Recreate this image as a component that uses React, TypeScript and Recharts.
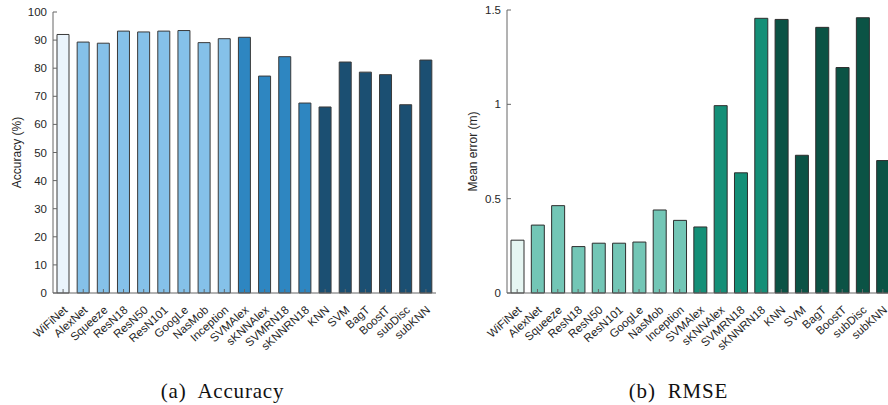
import { BarChart, Bar, XAxis, YAxis, Cell } from 'recharts';

const methods = [
  'WiFiNet', 'AlexNet', 'Squeeze', 'ResN18', 'ResN50', 'ResN101', 'GoogLe', 'NasMob', 'Inception',
  'SVMAlex', 'sKNNAlex', 'SVMRN18', 'sKNNRN18', 'KNN', 'SVM', 'BagT', 'BoostT', 'subDisc', 'subKNN',
];
// 0 = proposed, 1 = transfer learned DNNs, 2 = feature + classifier, 3 = classic ML
const groups = [0, 1, 1, 1, 1, 1, 1, 1, 1, 2, 2, 2, 2, 3, 3, 3, 3, 3, 3];
const accuracy = [92.0, 89.3, 88.9, 93.2, 92.9, 93.2, 93.4, 89.1, 90.5, 91.0, 77.2, 84.1, 67.6, 66.2, 82.2, 78.6, 77.7, 67.0, 82.9];
const rmse = [0.28, 0.36, 0.463, 0.246, 0.264, 0.264, 0.27, 0.44, 0.385, 0.35, 0.993, 0.637, 1.456, 1.45, 0.73, 1.408, 1.195, 1.459, 0.702];
const accTicks = [0, 10, 20, 30, 40, 50, 60, 70, 80, 90, 100];
const rmseTicks = [0, 0.5, 1, 1.5];

const blues = ['#eaf4fc', '#85c1e9', '#2e86c1', '#1b4f72'];
const greens = ['#e6f6f2', '#73c6b6', '#148f77', '#0b5345'];

const accData = methods.map((m, i) => ({ name: m, value: accuracy[i] }));
const rmseData = methods.map((m, i) => ({ name: m, value: rmse[i] }));

const axisColor = '#666';
const labelFont = '"Liberation Sans", Arial, sans-serif';

const RotTick = (props: any) => {
  const { x, y, payload } = props;
  const tx = x + 5;
  const ty = y + 14;
  return (
    <text
      x={tx}
      y={ty}
      textAnchor="end"
      fontSize={11.5}
      fontFamily={labelFont}
      fill="#262626"
      transform={`rotate(-42, ${tx}, ${ty})`}
    >
      {payload.value}
    </text>
  );
};

const Caption = ({ text, left, width }: { text: string; left: number; width: number }) => (
  <div
    style={{
      position: 'absolute',
      left,
      top: 379,
      width,
      textAlign: 'center',
      fontFamily: '"Liberation Serif", "DejaVu Serif", serif',
      fontSize: 21,
      letterSpacing: 0.8,
      color: '#111',
      whiteSpace: 'pre',
    }}
  >
    {text}
  </div>
);

export default function App() {
  return (
    <div style={{ position: 'absolute', left: 0, top: 0, width: 888, height: 405, background: '#fff' }}>
      <div style={{ position: 'absolute', left: 0, top: 0 }}>
        <BarChart width={445} height={405} data={accData} margin={{ top: 12, right: 9, bottom: 0, left: 0 }} barSize={12}>
          <XAxis
            dataKey="name"
            xAxisId="bottom"
            height={112}
            interval={0}
            stroke={axisColor}
            tickSize={-4}
            tickMargin={8}
            tick={<RotTick />}
          />
          <XAxis dataKey="name" xAxisId="top" orientation="top" height={0} interval={0} stroke={axisColor} tickSize={-4} tick={false} />
          <YAxis
            yAxisId="left"
            width={53}
            domain={[0, 100]}
            ticks={accTicks}
            interval={0}
            stroke={axisColor}
            tickSize={-4}
            tickMargin={10}
            tick={{ fontSize: 11.5, fontFamily: labelFont, fill: '#262626' }}
            label={{ value: 'Accuracy (%)', angle: -90, position: 'insideLeft', offset: 17, style: { textAnchor: 'middle', fontSize: 12, fontFamily: labelFont, fill: '#262626' } }}
          />
          <YAxis yAxisId="right" orientation="right" width={0} domain={[0, 100]} ticks={accTicks} interval={0} stroke={axisColor} tickSize={-4} tick={false} />
          <Bar dataKey="value" xAxisId="bottom" yAxisId="left" stroke="#3a3a3a" strokeWidth={1} isAnimationActive={false}>
            {accData.map((d, i) => (
              <Cell key={d.name} fill={blues[groups[i]]} />
            ))}
          </Bar>
        </BarChart>
      </div>
      <div style={{ position: 'absolute', left: 445, top: 0, width: 443, height: 405, overflow: 'hidden' }}>
        <BarChart width={448} height={405} data={rmseData} margin={{ top: 10, right: 0, bottom: 0, left: 0 }} barSize={13}>
          <XAxis
            dataKey="name"
            xAxisId="bottom"
            height={112}
            interval={0}
            stroke={axisColor}
            tickSize={-4}
            tickMargin={8}
            tick={<RotTick />}
          />
          <XAxis dataKey="name" xAxisId="top" orientation="top" height={0} interval={0} stroke={axisColor} tickSize={-4} tick={false} />
          <YAxis
            width={62}
            domain={[0, 1.5]}
            ticks={rmseTicks}
            interval={0}
            stroke={axisColor}
            tickSize={-4}
            tickMargin={10}
            tick={{ fontSize: 11.5, fontFamily: labelFont, fill: '#262626' }}
            label={{ value: 'Mean error (m)', angle: -90, position: 'insideLeft', offset: 28, style: { textAnchor: 'middle', fontSize: 12, fontFamily: labelFont, fill: '#262626' } }}
          />
          <Bar dataKey="value" xAxisId="bottom" stroke="#2e2e2e" strokeWidth={1} isAnimationActive={false}>
            {rmseData.map((d, i) => (
              <Cell key={d.name} fill={greens[groups[i]]} />
            ))}
          </Bar>
        </BarChart>
      </div>
      <Caption text="(a)  Accuracy" left={0} width={445} />
      <Caption text="(b)  RMSE" left={445} width={467} />
    </div>
  );
}
